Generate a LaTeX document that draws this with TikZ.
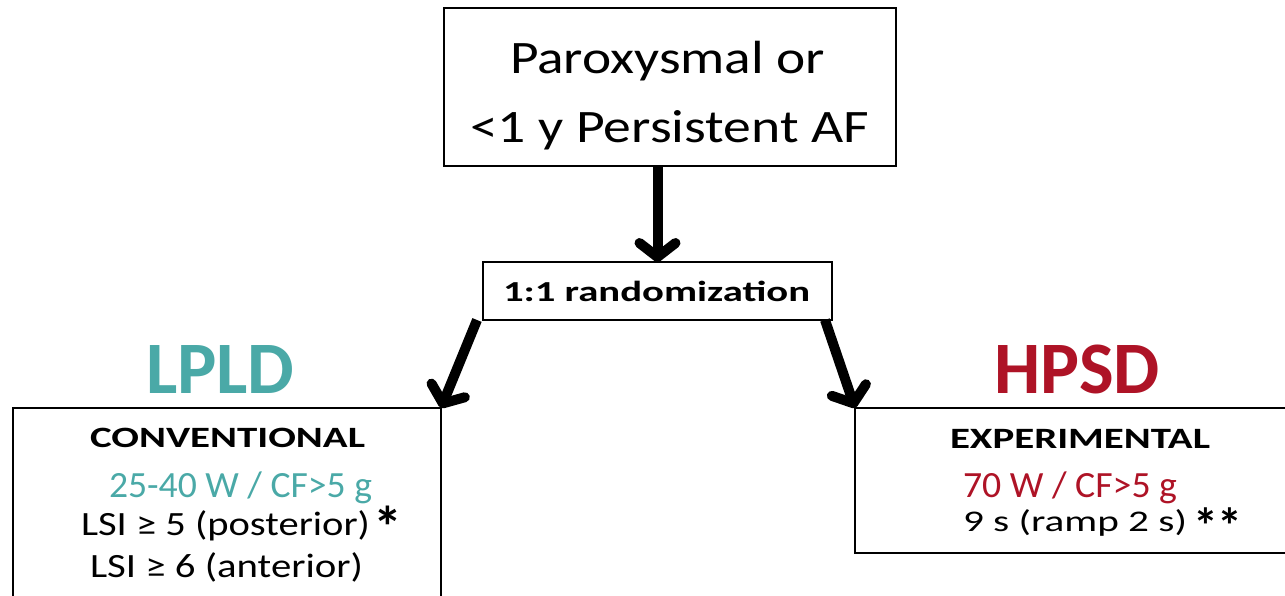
\documentclass[tikz,border=0pt]{standalone}
\usepackage{fontspec}
\setmainfont{Carlito}
\usetikzlibrary{arrows.meta}
\definecolor{lpldcol}{HTML}{4AA9A7}
\definecolor{hpsdcol}{HTML}{AE1326}
\newcommand{\wfit}[2]{\resizebox{#1pt}{\height}{#2}}
\begin{document}
\begin{tikzpicture}[x=1pt,y=-1pt,
  box/.style={draw=black, line width=2pt, inner sep=0pt, outer sep=0pt},
  txt/.style={inner sep=0pt, outer sep=0pt, anchor=base west},
  arr/.style={line width=10pt, line cap=butt, line join=round,
    -{Straight Barb[length=14pt,width=36pt,line cap=round,line join=round]}}]
\useasboundingbox (0,0) rectangle (1285,595);
\clip (0,0) rectangle (1285,595);
% boxes
\node[box, minimum width=452pt, minimum height=158pt] (top) at (670,87) {};
\node[box, minimum width=349pt, minimum height=58pt] (rand) at (657.5,291) {};
\node[box, minimum width=428pt, minimum height=232pt] (lbox) at (227,524) {};
\node[box, minimum width=445pt, minimum height=145pt] (rbox) at (1077.5,480.5) {};
% texts
\node[txt, font=\fontsize{46.5}{50}\selectfont] (t1) at (510,73) {\wfit{315}{Paroxysmal or}};
\node[txt, font=\fontsize{46.5}{50}\selectfont] (t2) at (470,142) {\wfit{399}{<1 y Persistent AF}};
\node[txt, font=\fontsize{29}{32}\selectfont\bfseries] (rt) at (503,301) {\wfit{307}{1:1 randomization}};
\node[txt, font=\fontsize{74}{80}\selectfont\bfseries, text=lpldcol] (lpld) at (146,393) {LPLD};
\node[txt, font=\fontsize{74}{80}\selectfont\bfseries, text=hpsdcol] (hpsd) at (994,393) {\wfit{166}{HPSD}};
\node[txt, font=\fontsize{29.5}{33}\selectfont\bfseries] (conv) at (90,447) {\wfit{275}{CONVENTIONAL}};
\node[txt, font=\fontsize{37}{40}\selectfont, text=lpldcol] (l1) at (109,497) {\wfit{263}{25-40 W / CF>5 g}};
\node[txt, font=\fontsize{34}{38}\selectfont] (l2) at (81,535) {\wfit{289}{LSI ≥ 5 (posterior)}\hspace{3pt}\raisebox{-12pt}{\fontsize{58}{58}\selectfont\bfseries *}};
\node[txt, font=\fontsize{34}{38}\selectfont] (l3) at (90,577) {\wfit{273}{LSI ≥ 6 (anterior)}};
\node[txt, font=\fontsize{29.5}{33}\selectfont\bfseries] (exp) at (950,448) {\wfit{260}{EXPERIMENTAL}};
\node[txt, font=\fontsize{37}{40}\selectfont, text=hpsdcol] (r1) at (963,497) {\wfit{214}{70 W / CF>5 g}};
\node[txt, font=\fontsize{30}{34}\selectfont] (r2) at (963,531) {\wfit{224}{9 s (ramp 2 s)}\hspace{6pt}\raisebox{-12pt}{\fontsize{50}{50}\selectfont\bfseries **}};
% arrows
\draw[arr] (rand.north |- top.south) -- (rand.north);
\draw[arr] ([xshift=-6pt]rand.south west) -- (lbox.north east);
\draw[arr] ([xshift=-7pt]rand.south east) -- (rbox.north west);
\end{tikzpicture}
\end{document}
